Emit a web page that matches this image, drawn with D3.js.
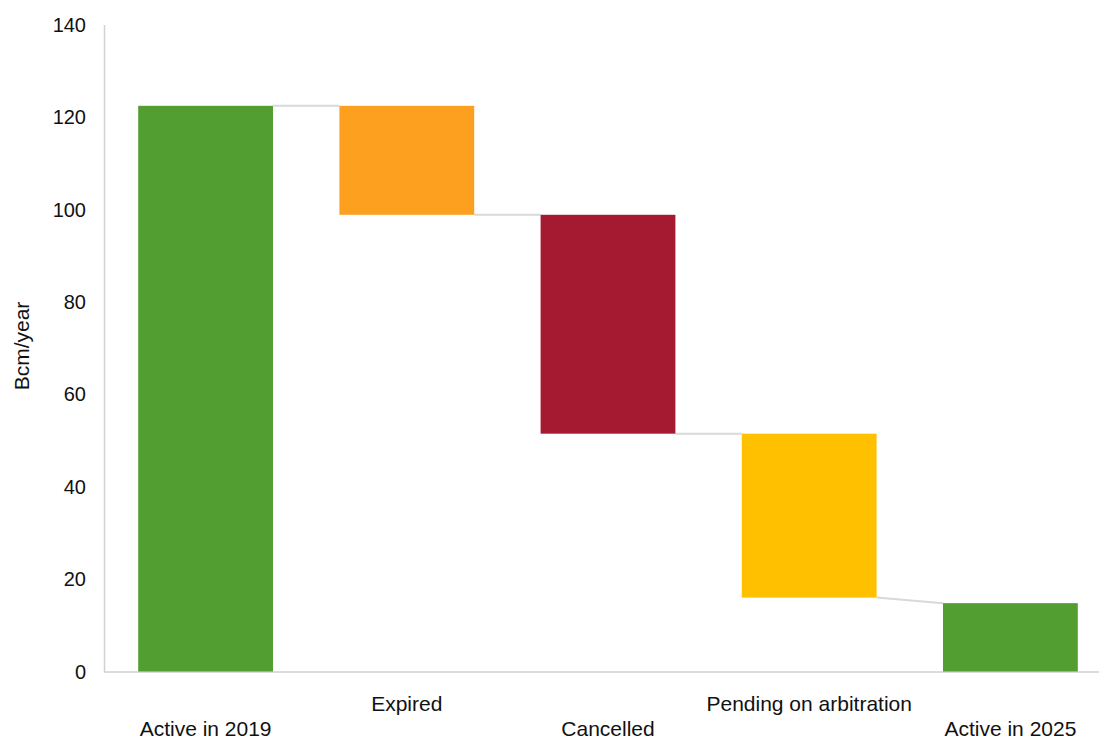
<!DOCTYPE html>
<html>
    <head>
        <meta charset="utf-8">
        <title>Contracts waterfall</title>
        <script src="https://d3js.org/d3.v7.min.js"></script>
        <style>
            body { margin: 0; background: #fff; }
            svg { display: block; }
        </style>
    </head>
    <body>
        <div id="main"></div>
        <script>
            // waterfall data: first and last are totals, middle are changes
            var categories = ["Active in 2019", "Expired", "Cancelled", "Pending on arbitration", "Active in 2025"]
            var values = [122.5, -23.6, -47.4, -35.5, 14.8]
            var isTotal = [true, false, false, false, true]
            var colors = ["#529e31", "#fda020", "#a51a31", "#ffc000", "#529e31"]
            var yTicks = [0, 20, 40, 60, 80, 100, 120, 140]

            var width = 1099, height = 737

            var svg = d3.select("#main")
                .append("svg")
                .attr("width", width)
                .attr("height", height)

            // build bars (start/end) from the values
            var bars = []
            var running = 0
            values.forEach(function(v, i) {
                var b = {name: categories[i], color: colors[i], i: i}
                if (isTotal[i]) {
                    b.start = 0; b.end = v; running = v
                } else {
                    b.start = running; b.end = running + v; running = running + v
                }
                bars.push(b)
            })

            var x = d3.scaleBand()
                .domain(categories)
                .range([105, 1111])
                .paddingInner(0.33)
                .paddingOuter(0.165)

            var y = d3.scaleLinear()
                .domain([0, 140])
                .range([671.5, 25])

            // axes lines
            svg.append("line")
                .attr("x1", 104.5).attr("x2", 104.5)
                .attr("y1", y(140)).attr("y2", y(0) + 1)
                .attr("stroke", "#ccd2d6").attr("stroke-width", 1.5)
            svg.append("line")
                .attr("x1", 104).attr("x2", width)
                .attr("y1", y(0) + 0.5).attr("y2", y(0) + 0.5)
                .attr("stroke", "#ccd2d6").attr("stroke-width", 1.5)

            // y tick labels
            svg.selectAll("text.ytick")
                .data(yTicks)
                .enter()
                .append("text")
                .attr("class", "ytick")
                .attr("x", 86)
                .attr("y", function(d) { return y(d) })
                .attr("dy", "0.35em")
                .style("text-anchor", "end")
                .style("font-family", "Liberation Sans, Arial, sans-serif")
                .style("font-size", "20px")
                .attr("fill", "#111")
                .text(function(d) { return d })

            // y axis title
            svg.append("text")
                .attr("transform", "translate(29," + 346 + ")rotate(-90)")
                .style("text-anchor", "middle")
                .style("font-family", "Liberation Sans, Arial, sans-serif")
                .style("font-size", "21px")
                .attr("fill", "#111")
                .text("Bcm/year")

            // connectors
            for (var i = 0; i < bars.length - 1; i++) {
                var a = bars[i], b = bars[i + 1]
                svg.append("line")
                    .attr("x1", x(a.name) + x.bandwidth())
                    .attr("x2", x(b.name))
                    .attr("y1", y(a.end))
                    .attr("y2", y(Math.max(b.start, b.end)))
                    .attr("stroke", "#d9d9d9")
                    .attr("stroke-width", 2)
            }

            // bars
            svg.selectAll("rect.bar")
                .data(bars)
                .enter()
                .append("rect")
                .attr("class", "bar")
                .attr("x", function(d) { return x(d.name) })
                .attr("width", x.bandwidth())
                .attr("y", function(d) { return y(Math.max(d.start, d.end)) })
                .attr("height", function(d) { return Math.abs(y(d.start) - y(d.end)) })
                .attr("fill", function(d) { return d.color })

            // category labels, staggered
            svg.selectAll("text.xlab")
                .data(bars)
                .enter()
                .append("text")
                .attr("class", "xlab")
                .attr("x", function(d) { return x(d.name) + x.bandwidth() / 2 })
                .attr("y", function(d) { return d.i % 2 == 0 ? 736 : 711 })
                .style("text-anchor", "middle")
                .style("font-family", "Liberation Sans, Arial, sans-serif")
                .style("font-size", "21px")
                .attr("fill", "#111")
                .text(function(d) { return d.name })
        </script>
    </body>
</html>
